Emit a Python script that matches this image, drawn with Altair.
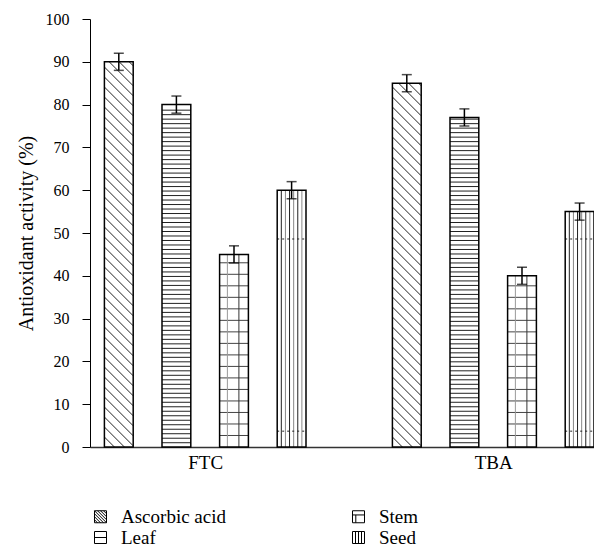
import altair as alt
import pandas as pd

# ---- data ----
groups = ["FTC", "TBA"]
series = ["Ascorbic acid", "Leaf", "Stem", "Seed"]
ftc_values = [90, 80, 45, 60]
tba_values = [85, 77, 40, 55]
ftc_err = [2, 2, 2, 2]
tba_err = [2, 2, 2, 2]

values = {"FTC": ftc_values, "TBA": tba_values}
errors = {"FTC": ftc_err, "TBA": tba_err}

# ---- layout helpers (styling only) ----
W, H = 504, 428
XMAX = 8.75
PX = W / XMAX        # px per slot
PY = H / 100.0       # px per unit
BAR_HALF = 0.25

rows = []
for gi, g in enumerate(groups):
    for si, s in enumerate(series):
        xc = gi * 5 + si + 0.5
        v = values[g][si]
        e = errors[g][si]
        rows.append(dict(group=g, series=s, xc=xc, x0=xc - BAR_HALF, x1=xc + BAR_HALF,
                         value=v, lo=v - e, hi=v + e, base=0))
bars = pd.DataFrame(rows)

hatch = []
dashed = []
for r in rows:
    x0, x1, h, s = r["x0"], r["x1"], r["value"], r["series"]
    w = x1 - x0
    if s == "Ascorbic acid":
        Wp, Hp = w * PX, h * PY
        c = 10.0
        while c < Wp + Hp:
            us, ue = max(0.0, c - Hp), min(Wp, c)
            if us < ue:
                hatch.append(dict(x=x0 + us / PX, x2=x0 + ue / PX,
                                  y=(c - us) / PY, y2=(c - ue) / PY, shade="#222222"))
            c += 10.0
    elif s == "Leaf":
        y = 1.0
        while y < h - 0.3:
            hatch.append(dict(x=x0, x2=x1, y=y, y2=y, shade="#222222"))
            y += 1.05
    elif s == "Stem":
        y = 2.69
        while y < h - 0.5:
            hatch.append(dict(x=x0, x2=x1, y=y, y2=y, shade="#444444"))
            y += 2.69
        hatch.append(dict(x=x0 + 0.27 * w, x2=x0 + 0.27 * w, y=0, y2=h, shade="#999999"))
        hatch.append(dict(x=x0 + 0.67 * w, x2=x0 + 0.67 * w, y=0, y2=h, shade="#333333"))
    elif s == "Seed":
        for k in range(1, 7):
            xx = x0 + k * w / 7
            hatch.append(dict(x=xx, x2=xx, y=0, y2=h,
                              shade="#222222" if k % 2 else "#888888"))
        for yy in (48.6, 3.7):
            if yy < h:
                dashed.append(dict(x=x0, x2=x1, y=yy, y2=yy))
hatch_df = pd.DataFrame(hatch)
dashed_df = pd.DataFrame(dashed)

group_centers = [gi * 5 + 2 for gi in range(len(groups))]
label_expr = " : ".join(
    [f"datum.value == {c} ? '{g}'" for c, g in zip(group_centers[:-1], groups[:-1])]
    + [f"'{groups[-1]}'"])

FONT = "Liberation Serif, Times New Roman, Times, serif"
xscale = alt.Scale(domain=[0, XMAX], nice=False, zero=False)
yscale = alt.Scale(domain=[0, 100], nice=False)

xaxis = alt.Axis(values=group_centers, labelExpr=label_expr, ticks=False,
                 grid=False, title=None, domainColor="#333333", domainWidth=1.5,
                 labelFont=FONT, labelFontSize=19, labelColor="black", labelPadding=6)
yaxis = alt.Axis(values=list(range(0, 101, 10)), grid=False, tickSize=8,
                 tickColor="black", domainColor="black", labelFont=FONT,
                 labelFontSize=16, labelColor="black", labelPadding=13,
                 title="Antioxidant activity (%)", titleFont=FONT,
                 titleFontSize=20, titleFontWeight="normal", titleColor="black",
                 titlePadding=9)


def X(f):
    return alt.X(f, scale=xscale, axis=xaxis, title=None)


def Y(f):
    return alt.Y(f, scale=yscale, axis=yaxis, title="Antioxidant activity (%)")


base_bar = alt.Chart(bars)

fill_layer = base_bar.mark_rect(fill="white", strokeWidth=0).encode(
    x=X("x0:Q"), x2="x1:Q", y=Y("value:Q"), y2="base:Q",
)

hatch_layer = alt.Chart(hatch_df).mark_rule(strokeWidth=1).encode(
    x=X("x:Q"), x2="x2:Q", y=Y("y:Q"), y2="y2:Q",
    color=alt.Color("shade:N", scale=None),
)

dash_layer = alt.Chart(dashed_df).mark_rule(strokeWidth=1, strokeDash=[2, 3], color="#222222").encode(
    x=X("x:Q"), x2="x2:Q", y=Y("y:Q"), y2="y2:Q",
)

outline_layer = base_bar.mark_rect(fillOpacity=0, stroke="black", strokeWidth=1.5).encode(
    x=X("x0:Q"), x2="x1:Q", y=Y("value:Q"), y2="base:Q",
)

err_layer = base_bar.mark_rule(color="black", strokeWidth=1.5).encode(
    x=X("xc:Q"), y=Y("lo:Q"), y2="hi:Q",
)
cap_lo = base_bar.mark_tick(orient="horizontal", size=10, thickness=1.5, color="black").encode(
    x=X("xc:Q"), y=Y("lo:Q"),
)
cap_hi = base_bar.mark_tick(orient="horizontal", size=10, thickness=1.5, color="black").encode(
    x=X("xc:Q"), y=Y("hi:Q"),
)

legend_order = ["Ascorbic acid", "Leaf", "Stem", "Seed"]
BOX = "M-1,-1H1V1H-1Z"
paths = {
    "Ascorbic acid": BOX + "M-1,0.5L-0.5,1M-1,0L0,1M-1,-0.5L0.5,1M-1,-1L1,1"
                           "M-0.5,-1L1,0.5M0,-1L1,0M0.5,-1L1,-0.5",
    "Leaf": BOX + "M-1,0H1",
    "Stem": BOX + "M-1,-0.3H1M-0.45,-0.3V1",
    "Seed": BOX + "M-0.5,-1V1M0,-1V1M0.5,-1V1",
}
legend_layer = base_bar.mark_point(filled=False, color="black", opacity=0).encode(
    x=X("xc:Q"), y=Y("base:Q"),
    shape=alt.Shape("series:N",
                    scale=alt.Scale(domain=legend_order, range=[paths[s] for s in legend_order]),
                    legend=alt.Legend(title=None, orient="none", legendX=1, legendY=488,
                                      columns=2, columnPadding=123, rowPadding=1,
                                      symbolSize=144, symbolStrokeWidth=1,
                                      symbolStrokeColor="black", symbolFillColor="white",
                                      symbolOpacity=1, labelFont=FONT, labelFontSize=19,
                                      labelColor="black", labelOffset=11, padding=0,
                                      labelLimit=300)),
)

chart = alt.layer(
    fill_layer, hatch_layer, dash_layer, outline_layer, err_layer, cap_lo, cap_hi, legend_layer
).properties(
    width=W, height=H,
    background="white",
    autosize=alt.AutoSizeParams(type="none"),
    padding={"left": 82, "top": 11, "right": 0, "bottom": 99},
).configure_view(stroke=None)

chart.save("out.html", embed_options={"renderer": "svg", "actions": False})
